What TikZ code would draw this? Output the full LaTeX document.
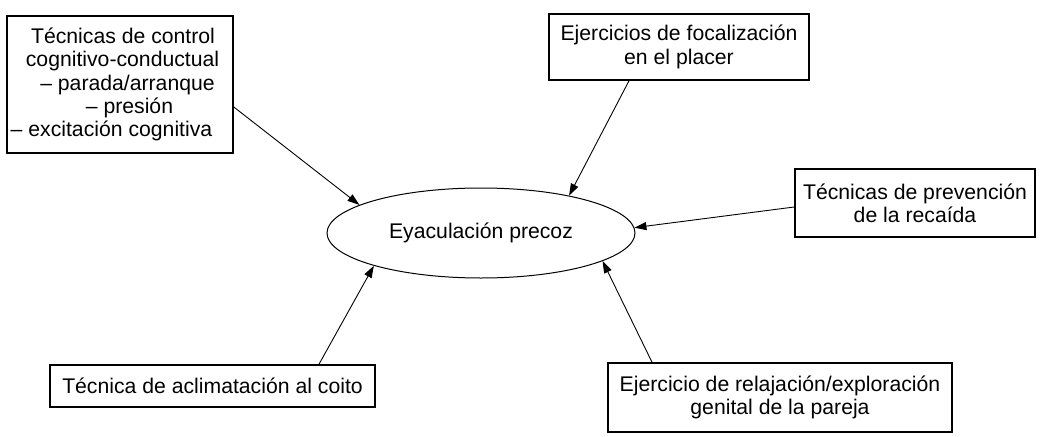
\documentclass[tikz,border=0pt]{standalone}
\usepackage{fontspec}
\setmainfont{Liberation Sans}
\usetikzlibrary{arrows.meta,shapes.geometric}
\begin{document}
\begin{tikzpicture}[x=1pt,y=-1pt,
  box/.style={draw,line width=1.6pt,inner sep=0pt,align=center,font=\fontsize{21.2}{23.3}\selectfont},
  ell/.style={draw,ellipse,line width=1pt,inner sep=0pt,font=\fontsize{21.2}{23.3}\selectfont},
  arr/.style={line width=0.9pt,-{Triangle[length=12pt,width=8pt]}}]
\useasboundingbox (0,0) rectangle (1056,436);
\node[ell,minimum width=308pt,minimum height=90pt] (e) at (481,233) {Eyaculación precoz};
\node[box,minimum width=226pt,minimum height=137pt] (b1) at (120,84.5)
  {\hspace*{6pt}Técnicas de control\\\hspace*{5pt}cognitivo-conductual\\\hspace*{15pt}– parada/arranque\\\hspace*{19pt}– presión\\– excitación cognitiva\hspace*{17pt}};
\node[box,minimum width=260pt,minimum height=66pt] (b2) at (679,47) {Ejercicios de focalización\\en el placer};
\node[box,minimum width=240pt,minimum height=68pt] (b3) at (915,203) {Técnicas de prevención\\de la recaída};
\node[box,minimum width=325pt,minimum height=42pt] (b4) at (212.5,386) {Técnica de aclimatación al coito};
\node[box,minimum width=344pt,minimum height=69pt] (b5) at (780,397.5) {Ejercicio de relajación/exploración\\genital de la pareja};
\draw[arr] ([yshift=-22.5pt]b1.east) -- (e.167.6);
\draw[arr] ([xshift=-50pt]b2.south) -- (e.23);
\draw[arr] ([yshift=-4pt]b3.west) -- (e.2);
\draw[arr] ([xshift=106.5pt]b4.north) -- (e.197);
\draw[arr] ([xshift=-128pt]b5.north) -- (e.-13.5);
\end{tikzpicture}
\end{document}
